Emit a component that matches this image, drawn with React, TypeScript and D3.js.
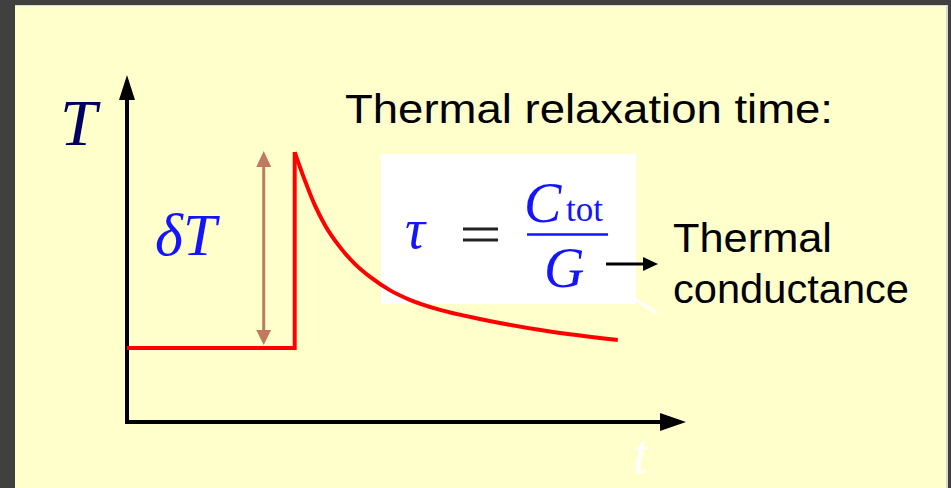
import React from "react";
import * as d3 from "d3";

// ---- data ----
const timePoints = [0, 3.0, 3.0, 3.18, 3.36, 3.54, 3.81, 4.08, 4.35, 4.7, 5.06, 5.6, 6.31, 7.51, 8.78];
const tempPoints = [2.13, 2.13, 7.78, 6.97, 6.25, 5.68, 5.04, 4.55, 4.18, 3.8, 3.52, 3.23, 2.97, 2.62, 2.36];
const xDomain = [0, 10];
const yDomain = [0, 10];
const axisLabels = ["T", "t"];
const titleLines = ["Thermal relaxation time:"];
const conductanceLines = ["Thermal", "conductance"];
const deltaLabel = "δT";

const W = 951;
const H = 488;

export default function App() {
  const x = d3.scaleLinear().domain(xDomain).range([127, 686]);
  const y = d3.scaleLinear().domain(yDomain).range([422, 75]);

  const pts = timePoints.map((t, i) => [t, tempPoints[i]] as [number, number]);
  const stepPts = pts.slice(0, 3);
  const decayPts = pts.slice(2);
  const linLine = d3.line<[number, number]>().x((d) => x(d[0])).y((d) => y(d[1])).curve(d3.curveLinear);
  const decLine = d3.line<[number, number]>().x((d) => x(d[0])).y((d) => y(d[1])).curve(d3.curveMonotoneX);

  const x0 = x(xDomain[0]);
  const y0 = y(yDomain[0]);
  const xEnd = x(xDomain[1]);
  const yEnd = y(yDomain[1]);

  const base = y(tempPoints[0]);
  const peak = y(tempPoints[2]);
  const arrowX = x(timePoints[1]) - 31;
  const brown = "#c07a62";

  const mathFont = "'Liberation Serif', 'DejaVu Serif', serif";
  const textFont = "'Liberation Sans', Arial, sans-serif";
  const blue = "#1414ff";

  return (
    <div style={{ position: "absolute", left: 0, top: 0 }}>
      <svg width={W} height={H} viewBox={`0 0 ${W} ${H}`} style={{ display: "block" }}>
        <rect x={0} y={0} width={W} height={H} fill="#404040" />
        <rect x={15} y={5} width={933} height={H - 5} fill="#d9d9d9" />
        <rect x={15} y={6} width={931} height={H - 6} fill="#ffffcc" />

        {/* white formula box */}
        <rect x={381} y={154} width={255} height={150} fill="#ffffff" />
        <line x1={633} y1={298} x2={657} y2={313} stroke="#ffffff" strokeWidth={3} />

        {/* axes */}
        <line x1={x0} y1={y0 + 2} x2={x0} y2={yEnd + 24} stroke="#000" strokeWidth={4} />
        <polygon points={`${x0 - 8},${yEnd + 25} ${x0 + 8},${yEnd + 25} ${x0},${yEnd}`} fill="#000" />
        <line x1={x0 - 2} y1={y0} x2={xEnd - 25} y2={y0} stroke="#000" strokeWidth={4} />
        <polygon points={`${xEnd - 26},${y0 - 9} ${xEnd - 26},${y0 + 9} ${xEnd},${y0}`} fill="#000" />

        {/* delta T double arrow */}
        <line x1={arrowX} y1={peak + 12} x2={arrowX} y2={base - 14} stroke={brown} strokeWidth={3} />
        <polygon points={`${arrowX - 7.5},${peak + 15} ${arrowX + 7.5},${peak + 15} ${arrowX},${peak - 1}`} fill={brown} />
        <polygon points={`${arrowX - 7.5},${base - 18} ${arrowX + 7.5},${base - 18} ${arrowX},${base - 3}`} fill={brown} />

        {/* temperature curve */}
        <path d={linLine(stepPts) || ""} fill="none" stroke="#ff0000" strokeWidth={4} strokeLinejoin="miter" />
        <path d={decLine(decayPts) || ""} fill="none" stroke="#ff0000" strokeWidth={4} />

        {/* axis labels */}
        <text x={60} y={145} fontFamily={mathFont} fontStyle="italic" fontSize={66} fill="#000060">
          {axisLabels[0]}
        </text>
        <text x={633} y={473} fontFamily={mathFont} fontStyle="italic" fontSize={56} fill="#ffffff">
          {axisLabels[1]}
        </text>
        <text x={155} y={255} fontFamily={mathFont} fontStyle="italic" fontSize={60} fill={blue}>
          {deltaLabel}
        </text>

        {/* title */}
        <text x={345} y={123} fontFamily={textFont} fontSize={40} fill="#000" textLength={488} lengthAdjust="spacingAndGlyphs">
          {titleLines[0]}
        </text>

        {/* formula */}
        <text x={405} y={248} fontFamily={mathFont} fontStyle="italic" fontSize={56} fill={blue}>τ</text>
        <line x1={463} y1={229} x2={498} y2={229} stroke="#222" strokeWidth={3} />
        <line x1={463} y1={240} x2={498} y2={240} stroke="#222" strokeWidth={3} />
        <text x={524} y={222} fontFamily={mathFont} fontStyle="italic" fontSize={56} fill={blue}>C</text>
        <text x={566} y={221} fontFamily={mathFont} fontSize={35} fill={blue}>tot</text>
        <line x1={527} y1={234.5} x2={608} y2={234.5} stroke={blue} strokeWidth={2.5} />
        <text x={544} y={287} fontFamily={mathFont} fontStyle="italic" fontSize={56} fill={blue}>G</text>

        {/* arrow to conductance */}
        <line x1={606} y1={264} x2={645} y2={264} stroke="#000" strokeWidth={3} />
        <polygon points={`${643},${257} ${643},${271} ${658},${264}`} fill="#000" />

        <text x={673} y={252} fontFamily={textFont} fontSize={40} fill="#000" textLength={159} lengthAdjust="spacingAndGlyphs">
          {conductanceLines[0]}
        </text>
        <text x={673} y={303} fontFamily={textFont} fontSize={40} fill="#000" textLength={236} lengthAdjust="spacingAndGlyphs">
          {conductanceLines[1]}
        </text>
      </svg>
    </div>
  );
}
